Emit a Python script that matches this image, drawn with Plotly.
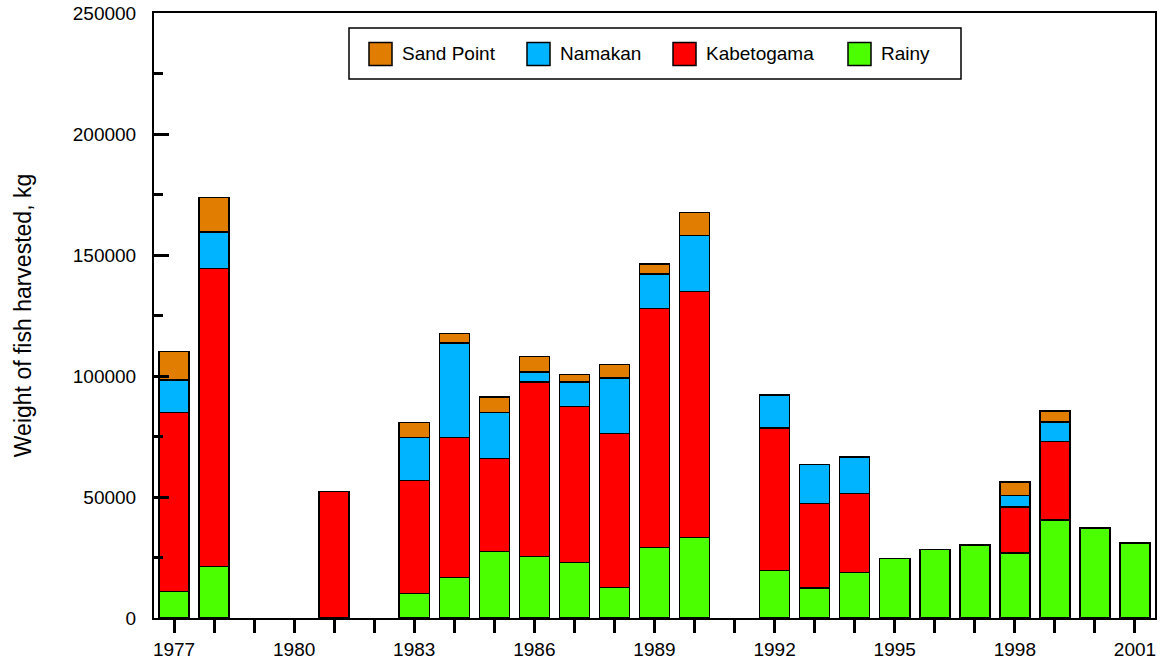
import plotly.graph_objects as go

# Annual harvest by basin (kg); None = no harvest recorded
years = list(range(1977, 2002))

rainy = [11000, 21300, None, None, None, None, 10100, 16700, 27500, 25400,
         22900, 12600, 29100, 33300, None, 19600, 12500, 18900, 24500, 28400,
         30100, 26900, 40400, 37100, 30900]
kabetogama = [74000, 123200, None, None, 52300, None, 46700, 57900, 38400, 72200,
              64400, 63600, 98800, 101700, None, 59000, 34900, 32500, None, None,
              None, 19000, 32500, None, None]
namakan = [13400, 15000, None, None, None, None, 17800, 39000, 19000, 4000,
           10300, 23000, 14200, 23000, None, 13500, 16000, 15200, None, None,
           None, 4700, 8000, None, None]
sand_point = [11800, 14300, None, None, None, None, 6200, 3900, 6500, 6400,
              3100, 5500, 4100, 9500, None, None, None, None, None, None,
              None, 5500, 4700, None, None]

series_names = ["Rainy", "Kabetogama", "Namakan", "Sand Point"]
series_values = [rainy, kabetogama, namakan, sand_point]
series_colors = ["#4CFF00", "#FF0000", "#00B4FF", "#E17D00"]

tick_labels = [str(y) if (y - 1977) % 3 == 0 else "" for y in years]

FONT = "Liberation Sans, Arial, sans-serif"
W, H = 1162, 662
ML, MR, MT, MB = 154, 7, 13, 44

fig = go.Figure()
for name, vals, col in zip(series_names, series_values, series_colors):
    fig.add_trace(go.Bar(
        x=years, y=vals, name=name, width=0.75,
        marker=dict(color=col, line=dict(color="black", width=1.5)),
        showlegend=False,
    ))

# Boxed legend drawn in pixel space, converted to paper coordinates
pw, ph = W - ML - MR, H - MT - MB
def px(x):
    return (x - ML) / pw
def py(y):
    return (H - MB - y) / ph

shapes = [dict(type="rect", xref="paper", yref="paper",
               x0=px(349), x1=px(961), y0=py(79), y1=py(28),
               line=dict(color="black", width=1.5), fillcolor="white", layer="above")]
annotations = []
legend_order = ["Sand Point", "Namakan", "Kabetogama", "Rainy"]
swatch_x = [369, 527, 673, 848]
for name, sx in zip(legend_order, swatch_x):
    col = series_colors[series_names.index(name)]
    shapes.append(dict(type="rect", xref="paper", yref="paper",
                       x0=px(sx), x1=px(sx + 23), y0=py(65.5), y1=py(42.5),
                       line=dict(color="black", width=1.5), fillcolor=col, layer="above"))
    annotations.append(dict(xref="paper", yref="paper", x=px(sx + 31), y=py(54),
                            text=name, showarrow=False, xanchor="left", yanchor="middle",
                            font=dict(family=FONT, size=19, color="black")))

fig.update_layout(
    width=W, height=H,
    margin=dict(l=ML, r=MR, t=MT, b=MB, autoexpand=False),
    paper_bgcolor="white", plot_bgcolor="white",
    barmode="stack",
    font=dict(family=FONT, size=19, color="black"),
    shapes=shapes, annotations=annotations,
    xaxis=dict(
        range=[1976.5, 2001.5], automargin=False,
        tickmode="array", tickvals=years, ticktext=tick_labels,
        ticks="outside", ticklen=13, tickwidth=2.5, tickcolor="black",
        showline=True, linewidth=2, linecolor="black", mirror=True,
        showgrid=False, zeroline=False,
        tickfont=dict(family=FONT, size=19, color="black"),
    ),
    yaxis=dict(
        range=[0, 250000], dtick=50000, tickformat="d", automargin=False,
        ticks="inside", ticklen=15, tickwidth=2.5, tickcolor="black",
        minor=dict(ticks="inside", ticklen=9, tickwidth=2.5, tickcolor="black", dtick=25000),
        showline=True, linewidth=2, linecolor="black", mirror=True,
        showgrid=False, zeroline=False, ticklabelstandoff=12,
        tickfont=dict(family=FONT, size=19, color="black"),
        title=dict(text="Weight of fish harvested, kg", standoff=35,
                   font=dict(family=FONT, size=23, color="black")),
    ),
)

fig.write_html("out.html")
